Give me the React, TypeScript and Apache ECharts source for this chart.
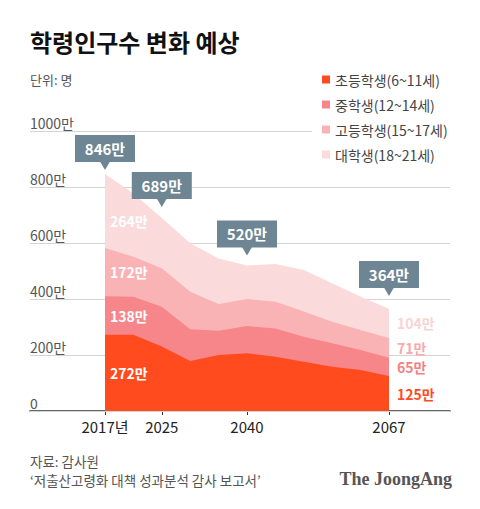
import { useEffect, useRef } from "react";
import * as echarts from "echarts";

// ---- data ----
const YEARS = ["2017", "2020", "2025", "2030", "2035", "2040", "2045", "2050", "2055", "2060", "2067"];
const TICK_IDX = [0, 2, 5, 10];
const TICK_LABELS = ["2017년", "2025", "2040", "2067"];
const SERIES_NAMES = ["초등학생(6~11세)", "중학생(12~14세)", "고등학생(15~17세)", "대학생(18~21세)"];
const ELEMENTARY = [272, 272, 230, 179, 200, 206, 194, 176, 158, 146, 125];
const MIDDLE = [138, 136, 142, 113, 87, 98, 101, 89, 84, 72, 65];
const HIGH = [172, 143, 138, 134, 95, 96, 95, 90, 77, 71, 71];
const UNIVERSITY = [264, 226, 179, 173, 163, 120, 135, 149, 137, 119, 104];
const CALLOUT_IDX = [0, 2, 5, 10];
const CALLOUT_VALUES = [846, 689, 520, 364];
const Y_MAX = 1000;
const Y_STEP = 200;

// ---- style ----
const FONT = "'Noto Sans CJK KR', 'Noto Sans', sans-serif";
const COLORS = ["#FF4B1E", "#F7868A", "#FAB3B4", "#FADADB"];
const RIGHT_LABEL_COLORS = ["#FF4B1E", "#F47F84", "#F7A9AB", "#F8D3D5"];
const BOX = "#6E8593";
const CALLOUT_GAP = [4, 11, 10, 13];
const LEFT_LABEL_DY = [0, 0, 0, 10];

export default function App() {
  const ref = useRef<HTMLDivElement>(null);
  useEffect(() => {
    if (!ref.current) return;
    const chart = echarts.init(ref.current, undefined, { renderer: "svg" });
    const all = [ELEMENTARY, MIDDLE, HIGH, UNIVERSITY];
    const idx = YEARS.map((_, i) => i);

    // cumulative (stacked) tops, bottom series first
    const cum: number[][] = [];
    all.forEach((arr, s) => {
      cum.push(arr.map((v, i) => v + (s > 0 ? cum[s - 1][i] : 0)));
    });

    // band label data: [x index, mid value, value, series index, side]
    const bandData: any[] = [];
    [0, YEARS.length - 1].forEach((xi, side) => {
      let base = 0;
      all.forEach((arr, s) => {
        const v = arr[xi];
        bandData.push([xi, base + v / 2, v, s, side]);
        base += v;
      });
    });

    const pxPerIdx = 28.4;
    const xMin = -75 / pxPerIdx;
    const xMax = 10 + 61 / pxPerIdx;

    const option: any = {
      animation: false,
      backgroundColor: "#fff",
      textStyle: { fontFamily: FONT },
      grid: { left: 30, right: 30, top: 131, bottom: 98 },
      legend: {
        orient: "vertical",
        left: 312,
        top: 68,
        padding: [4, 6, 4, 10],
        backgroundColor: "#fff",
        itemWidth: 8,
        itemHeight: 8,
        itemGap: 10,
        icon: "rect",
        data: SERIES_NAMES,
        textStyle: { fontSize: 14, color: "#444", fontFamily: FONT, lineHeight: 15 },
      },
      xAxis: {
        type: "value",
        min: xMin,
        max: xMax,
        axisLine: { show: true, lineStyle: { color: "#333", width: 1.5 } },
        axisTick: { show: true, customValues: TICK_IDX, length: 4, lineStyle: { color: "#333" } },
        axisLabel: {
          customValues: TICK_IDX,
          formatter: (v: number) => {
            const k = TICK_IDX.indexOf(Math.round(v));
            return k >= 0 ? TICK_LABELS[k] : "";
          },
          fontSize: 15,
          color: "#222",
          margin: 8,
          fontFamily: FONT,
        },
        splitLine: { show: false },
      },
      yAxis: {
        type: "value",
        min: 0,
        max: Y_MAX,
        interval: Y_STEP,
        axisLine: { show: false },
        axisTick: { show: false },
        axisLabel: {
          inside: true,
          margin: 0,
          align: "left",
          verticalAlign: "bottom",
          padding: [0, 0, 1, 0],
          fontSize: 14,
          color: "#555",
          fontFamily: FONT,
          formatter: (v: number) => (v === 0 ? "0" : v + "만"),
        },
        splitLine: { show: true, lineStyle: { color: "#d4d4d4", width: 1 } },
        z: 1,
      },
      series: [
        ...all.map((_, s) => ({
          name: SERIES_NAMES[s],
          type: "line",
          symbol: "none",
          lineStyle: { width: 0 },
          itemStyle: { color: COLORS[s] },
          areaStyle: { color: COLORS[s], opacity: 1, origin: "start" },
          data: cum[s].map((v, i) => [idx[i], v]),
          z: 2 + (all.length - s) * 0.1,
        })),
        {
          type: "custom",
          name: "bandLabels",
          z: 5,
          clip: false,
          data: bandData,
          renderItem: (params: any, api: any) => {
            const xi = api.value(0);
            const mid = api.value(1);
            const v = api.value(2);
            const s = api.value(3);
            const side = api.value(4);
            const [px, py] = api.coord([xi, mid]);
            if (side === 0) {
              return {
                type: "text",
                style: {
                  text: v + "만",
                  x: px + 5,
                  y: py + LEFT_LABEL_DY[s],
                  align: "left",
                  verticalAlign: "middle",
                  fill: "#fff",
                  fontSize: 14,
                  fontWeight: "bold",
                  fontFamily: FONT,
                },
              };
            }
            return {
              type: "text",
              style: {
                text: v + "만",
                x: px + 6,
                y: py,
                align: "left",
                verticalAlign: "middle",
                fill: RIGHT_LABEL_COLORS[s],
                backgroundColor: "#fff",
                padding: [0, 3, 0, 2],
                fontSize: 14,
                fontWeight: "bold",
                fontFamily: FONT,
              },
            };
          },
        },
        {
          type: "custom",
          name: "callouts",
          z: 6,
          clip: false,
          data: CALLOUT_IDX.map((xi, k) => [xi, CALLOUT_VALUES[k]]),
          renderItem: (params: any, api: any) => {
            const xi = api.value(0);
            const v = api.value(1);
            const k = params.dataIndex;
            const [px, py] = api.coord([xi, v]);
            const tipY = py - CALLOUT_GAP[k];
            const w = 60;
            const h = 27;
            const th = 8;
            return {
              type: "group",
              children: [
                {
                  type: "rect",
                  shape: { x: px - w / 2, y: tipY - th - h, width: w, height: h },
                  style: { fill: BOX },
                },
                {
                  type: "polygon",
                  shape: {
                    points: [
                      [px - 5, tipY - th - 0.5],
                      [px + 5, tipY - th - 0.5],
                      [px, tipY],
                    ],
                  },
                  style: { fill: BOX },
                },
                {
                  type: "text",
                  style: {
                    text: v + "만",
                    x: px,
                    y: tipY - th - h / 2,
                    align: "center",
                    verticalAlign: "middle",
                    fill: "#fff",
                    fontSize: 15,
                    fontWeight: "bold",
                    fontFamily: FONT,
                  },
                },
              ],
            };
          },
        },
      ],
      graphic: [
        {
          type: "text",
          left: 30,
          top: 29,
          style: { text: "학령인구수 변화 예상", fontSize: 24, fontWeight: "bold", fill: "#111", fontFamily: FONT },
        },
        {
          type: "text",
          left: 30,
          top: 73,
          style: { text: "단위: 명", fontSize: 13, fill: "#555", fontFamily: FONT },
        },
        {
          type: "text",
          left: 30,
          top: 454,
          style: { text: "자료: 감사원", fontSize: 13.5, fill: "#555", fontFamily: FONT },
        },
        {
          type: "text",
          left: 30,
          top: 473,
          style: { text: "‘저출산고령화 대책 성과분석 감사 보고서’", fontSize: 13.5, fill: "#555", fontFamily: FONT },
        },
        {
          type: "text",
          right: 28,
          top: 470,
          style: {
            text: "The JoongAng",
            fontSize: 18,
            fontWeight: "bold",
            fill: "#555",
            fontFamily: "'Liberation Serif', 'DejaVu Serif', serif",
          },
        },
      ],
    };
    chart.setOption(option);
    return () => chart.dispose();
  }, []);
  return (
    <div
      ref={ref}
      style={{ position: "fixed", left: 0, top: 0, width: 480, height: 509, background: "#fff" }}
    />
  );
}
